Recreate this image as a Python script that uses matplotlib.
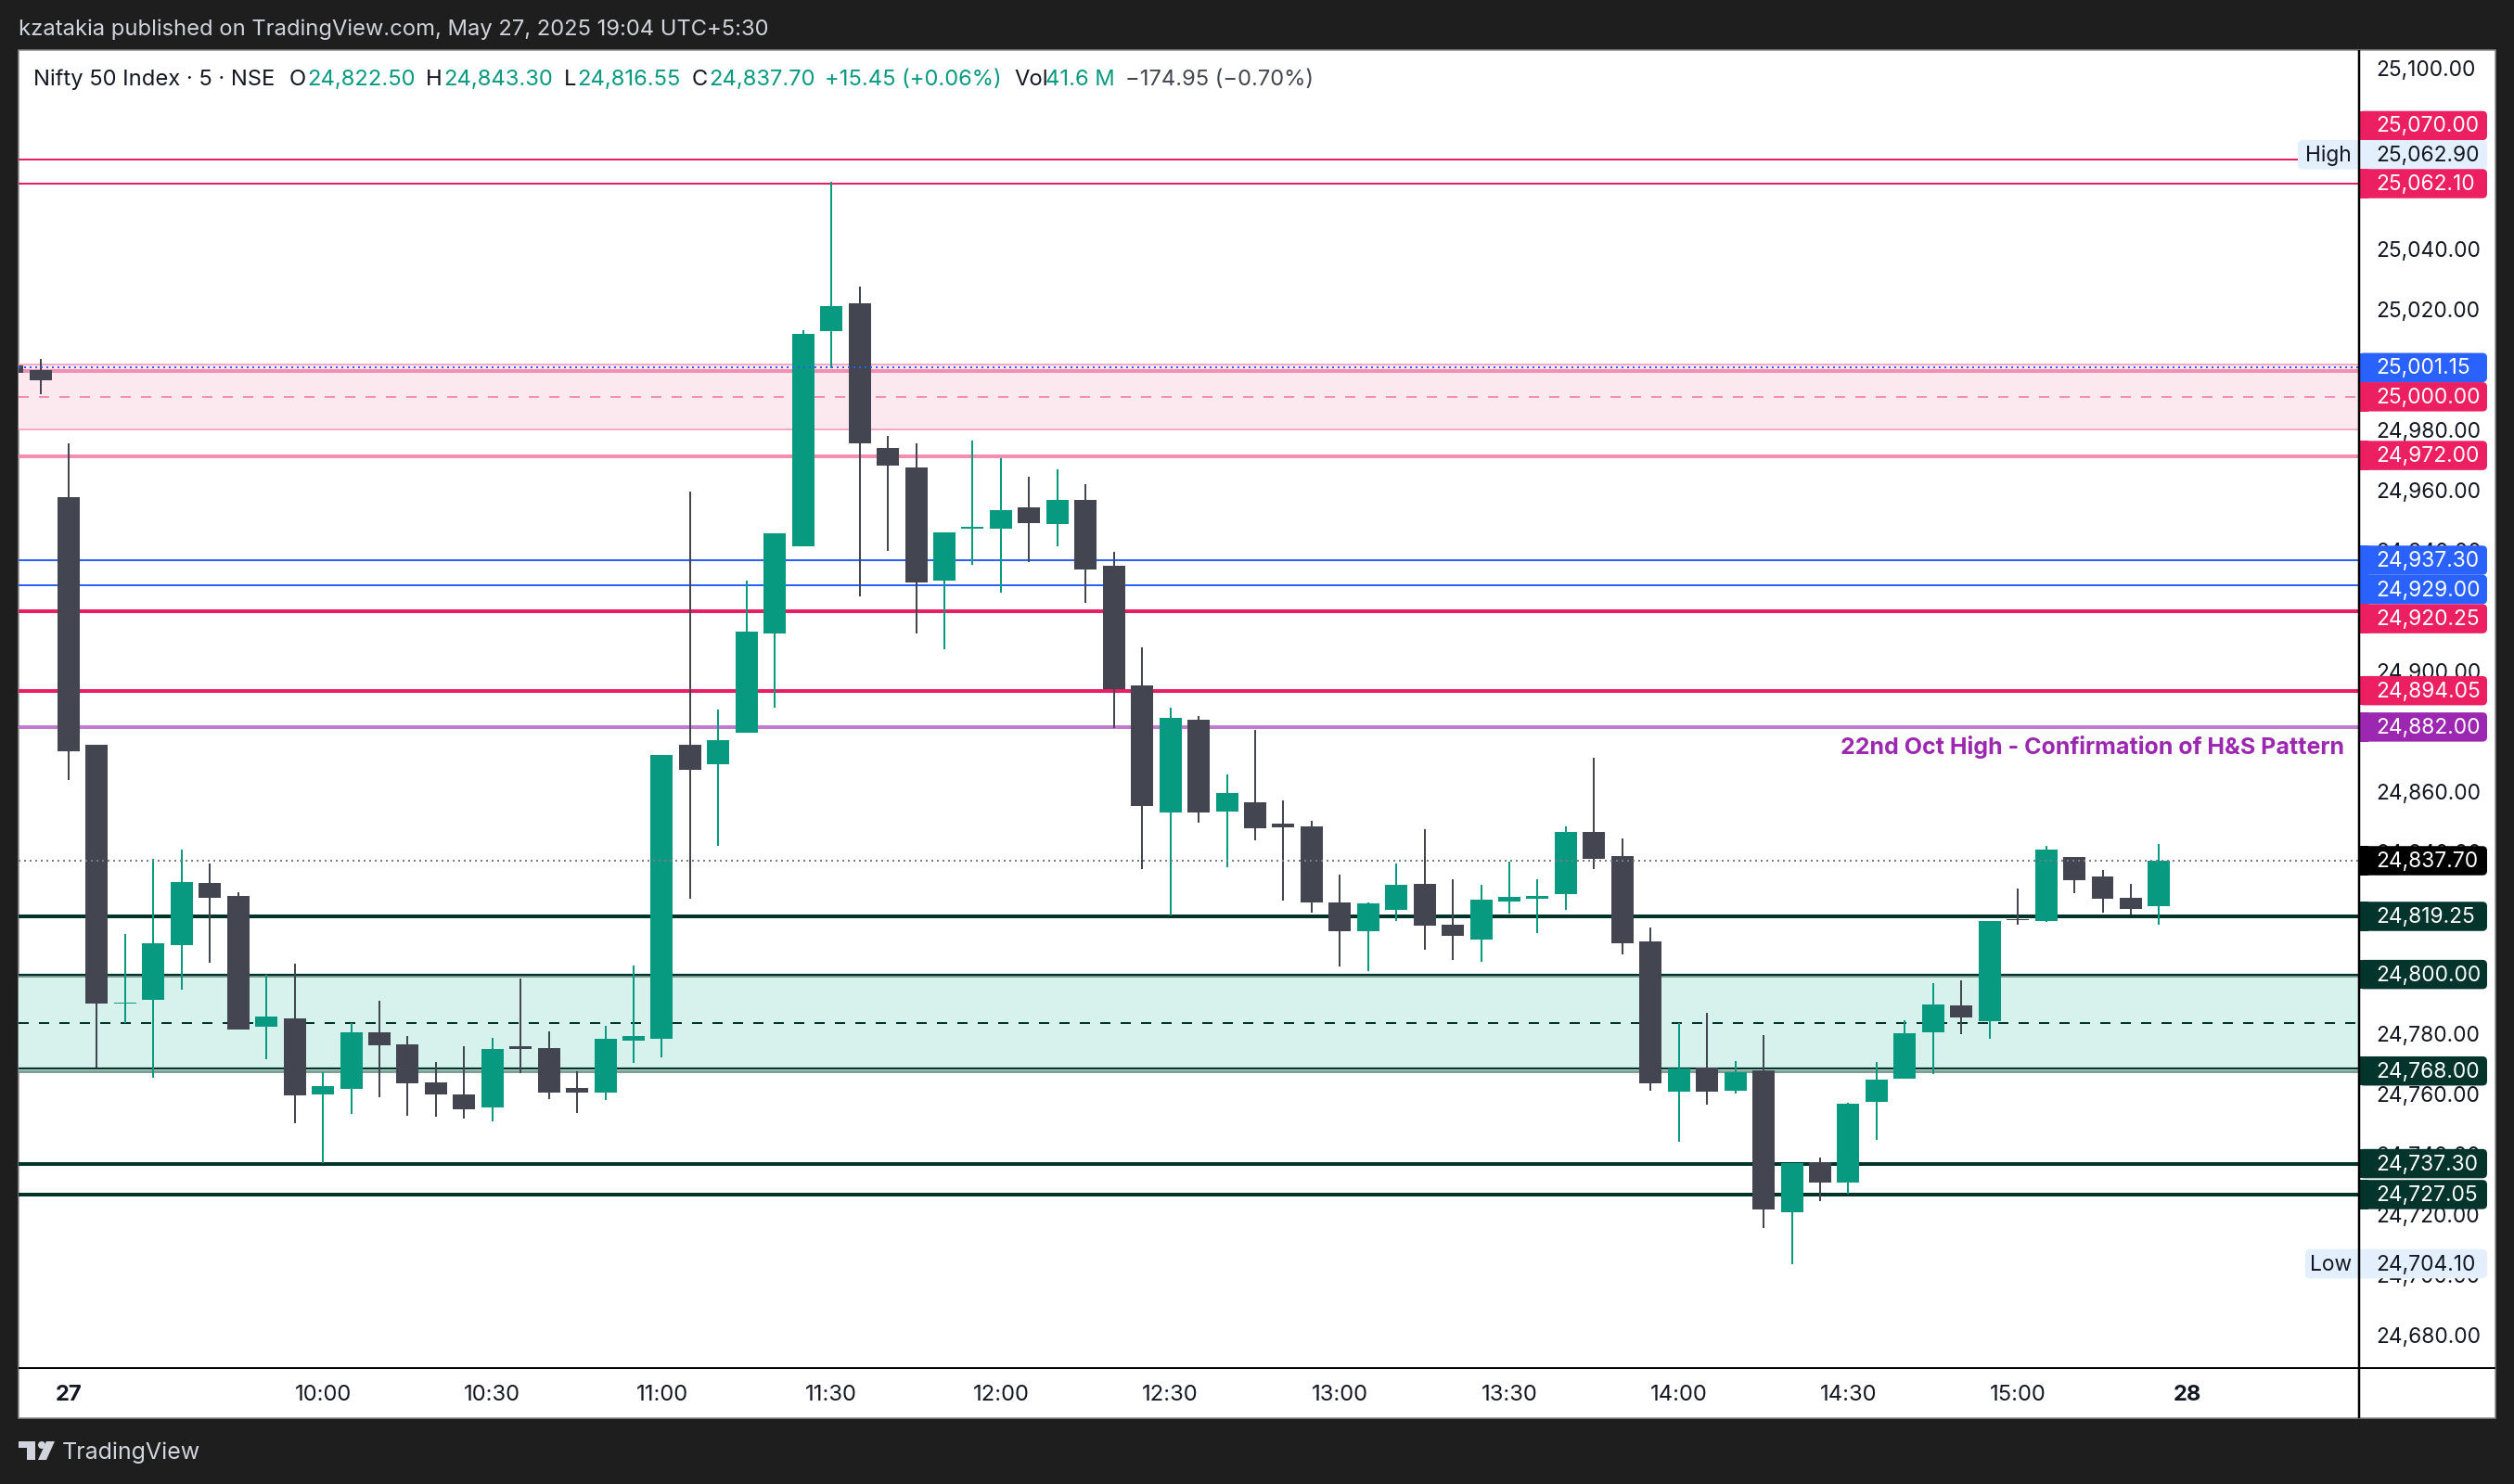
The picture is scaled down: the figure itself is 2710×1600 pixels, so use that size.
import matplotlib
matplotlib.use("Agg")
import matplotlib.pyplot as plt
from matplotlib.patches import FancyBboxPatch, Rectangle, Polygon, Circle
from matplotlib.transforms import ScaledTranslation

plt.rcParams["font.family"] = ["Inter", "DejaVu Sans"]
plt.rcParams["lines.scale_dashes"] = False

# candles, first one is index -2 (two bars of the previous session)
opens = [25001.8, 25000.4, 24958.2, 24876.1, 24790.2, 24791.5, 24809.7, 24830.3, 24826.0, 24782.7,
         24785.4, 24760.3, 24762.0, 24780.8, 24776.8, 24764.2, 24760.3, 24755.9, 24776.2, 24775.6,
         24762.3, 24760.9, 24778.0, 24778.6, 24876.1, 24869.7, 24880.1, 24913.0, 24941.9, 25013.3,
         25022.4, 24974.5, 24968.0, 24930.5, 24947.7, 24947.7, 24954.7, 24949.2, 24957.2, 24935.4,
         24895.8, 24853.7, 24884.4, 24854.0, 24857.0, 24849.9, 24849.1, 24823.9, 24814.4, 24821.4,
         24830.0, 24816.5, 24811.6, 24824.2, 24825.1, 24826.6, 24847.2, 24839.2, 24810.9, 24761.2,
         24769.2, 24761.5, 24768.2, 24721.2, 24737.7, 24731.0, 24757.8, 24765.5, 24780.8, 24789.7,
         24784.5, 24818.3, 24817.7, 24838.9, 24832.4, 24825.4, 24822.5]
highs = [25003.0, 25003.9, 24976.0, 24876.1, 24813.4, 24838.2, 24841.4, 24836.7, 24827.3, 24800.0,
         24803.6, 24767.5, 24783.8, 24791.2, 24779.6, 24771.0, 24776.2, 24779.0, 24798.6, 24781.1,
         24767.9, 24783.0, 24803.0, 24872.7, 24960.0, 24887.8, 24930.5, 24946.2, 25013.6, 25062.7,
         25028.0, 24978.4, 24976.0, 24946.5, 24976.9, 24971.0, 24964.9, 24967.4, 24962.4, 24940.0,
         24908.4, 24888.4, 24885.6, 24866.3, 24881.0, 24857.6, 24850.8, 24833.2, 24823.9, 24836.9,
         24848.2, 24831.6, 24829.8, 24837.4, 24831.6, 24849.1, 24871.9, 24845.0, 24815.5, 24784.0,
         24787.3, 24771.4, 24779.9, 24737.5, 24739.3, 24757.5, 24771.0, 24784.8, 24797.1, 24798.0,
         24817.7, 24828.5, 24842.6, 24838.9, 24834.6, 24830.0, 24843.3]
lows = [24998.0, 24992.4, 24864.5, 24769.1, 24783.8, 24765.8, 24795.0, 24803.9, 24781.8, 24771.9,
        24750.7, 24737.5, 24753.7, 24759.3, 24753.2, 24752.9, 24752.2, 24751.3, 24767.3, 24758.7,
        24754.0, 24758.4, 24770.6, 24772.5, 24825.1, 24842.6, 24880.1, 24888.4, 24941.9, 25001.0,
        24925.3, 24940.3, 24913.0, 24907.8, 24935.7, 24926.5, 24936.6, 24941.9, 24923.2, 24881.7,
        24834.9, 24819.6, 24850.3, 24835.5, 24844.5, 24824.4, 24820.6, 24802.7, 24801.0, 24817.7,
        24808.2, 24804.8, 24804.2, 24820.2, 24813.7, 24821.4, 24835.0, 24806.6, 24761.5, 24744.5,
        24756.9, 24760.6, 24716.0, 24704.1, 24724.9, 24727.3, 24745.2, 24765.5, 24767.0, 24780.3,
        24778.6, 24816.5, 24817.4, 24827.0, 24820.5, 24820.0, 24816.55]
closes = [24999.3, 24996.9, 24874.05, 24790.4, 24790.6, 24810.3, 24830.6, 24825.4, 24781.8, 24786.0,
          24760.0, 24763.0, 24780.8, 24776.5, 24763.9, 24760.3, 24755.3, 24775.3, 24775.3, 24760.9,
          24760.9, 24778.6, 24779.6, 24872.7, 24867.8, 24877.7, 24913.6, 24946.2, 25012.3, 25021.5,
          24976.0, 24968.7, 24929.9, 24946.5, 24948.3, 24953.9, 24949.5, 24957.2, 24934.2, 24894.6,
          24855.8, 24885.0, 24853.7, 24860.1, 24848.4, 24848.8, 24823.9, 24814.4, 24823.5, 24829.8,
          24816.2, 24812.8, 24824.8, 24825.7, 24826.1, 24847.2, 24838.3, 24810.3, 24763.9, 24768.8,
          24761.2, 24767.7, 24722.2, 24737.5, 24731.0, 24757.1, 24765.1, 24780.5, 24790.1, 24785.8,
          24817.7, 24817.9, 24841.4, 24831.3, 24825.1, 24821.7, 24837.7]

time_ticks = [0, 9, 15, 21, 27, 33, 39, 45, 51, 57, 63, 69, 75]
time_labels = ["27", "10:00", "10:30", "11:00", "11:30", "12:00", "12:30", "13:00",
               "13:30", "14:00", "14:30", "15:00", "28"]

# ticks that sit fully behind a price tag are left out
price_ticks = [25100, 25040, 25020, 24980, 24960, 24940, 24900,
               24860, 24840, 24780, 24760, 24740, 24720, 24700, 24680]

red_thin = [25070.00, 25062.10]
red_thick = [24920.25, 24894.05]
blue_lines = [24937.30, 24929.00]
dark_thick = [24819.25, 24737.30, 24727.05]

pink_zone = [24980.6, 25002.1]
pink_mid = 24991.35
pink_level = 25000.1
pink_thick = 24971.8
prev_close = 25001.15
last_close = 24837.70
purple_level = 24882.00

teal_zone = [24767.9, 24799.5]
teal_dark = [24800.0, 24768.8]
teal_mid = 24784.0

# price labels: text, where the tag sits, fill, text colour
tag_texts = ["25,070.00", "25,062.90", "25,062.10", "25,001.15", "25,000.00", "24,972.00",
             "24,937.30", "24,929.00", "24,920.25", "24,894.05", "24,882.00", "24,837.70",
             "24,819.25", "24,800.00", "24,768.00", "24,737.30", "24,727.05", "24,704.10"]
tag_prices = [25081.34, 25071.69, 25062.10, 25001.15, 24991.46, 24972.00,
              24937.30, 24927.60, 24917.90, 24894.05, 24882.00, 24837.70,
              24819.25, 24800.00, 24768.00, 24737.30, 24727.05, 24704.10]
tag_colors = ["#ec1f63", "#e3effd", "#ec1f63", "#2962ff", "#ec1f63", "#ec1f63",
              "#2962ff", "#2962ff", "#ec1f63", "#ec1f63", "#9c27b0", "#000000",
              "#04352c", "#04352c", "#04352c", "#04352c", "#04352c", "#e3effd"]
tag_text_colors = ["white", "#131722", "white", "white", "white", "white",
                   "white", "white", "white", "white", "white", "white",
                   "white", "white", "white", "white", "white", "#131722"]

GREEN = "#089981"
DARK = "#434651"
RED = "#e91e63"
BLUE = "#2962ff"
DARKGREEN = "#00332a"
W, H = 2710, 1600
FS = 17.1
PFS = 16.4  # price scale
px = 0.72  # points per pixel at dpi 100

fig = plt.figure(figsize=(W / 100, H / 100), dpi=100, facecolor="#1e1e1e")

# background panel in pixel coords
bg = fig.add_axes([0, 0, 1, 1], zorder=0)
bg.set_xlim(0, W)
bg.set_ylim(H, 0)
bg.axis("off")
bg.add_patch(Rectangle((20, 54), 2670, 1475, facecolor="white", edgecolor="#8a8a8a", lw=1.5 * px))

# chart
ax = fig.add_axes([20 / W, (H - 1475) / H, 2523 / W, 1421 / H], zorder=1)
ax.patch.set_alpha(0)
ax.set_xlim(-1.773, 81.08)
ax.set_ylim(24669.54, 25106.37)
for s in ax.spines.values():
    s.set_visible(False)
ax.set_yticks([])
ax.set_xticks(time_ticks)
ax.set_xticklabels(time_labels, fontsize=FS, color="#131722")
ax.tick_params(axis="x", length=0, pad=13)
for lab in ax.get_xticklabels():
    if lab.get_text() in ("27", "28"):
        lab.set_fontweight("bold")

# zones
ax.axhspan(pink_zone[0], pink_zone[1], color="#fce8ef", lw=0, zorder=1)
ax.axhspan(teal_zone[0], teal_zone[1], color="#d7f2ec", lw=0, zorder=1)
for p in pink_zone:
    ax.axhline(p, color="#f8a9c3", lw=2 * px, zorder=2)
for p in teal_zone:
    ax.axhline(p, color="#7f9f95", lw=3 * px, zorder=2)
for p in teal_dark:
    ax.axhline(p, color=DARKGREEN, lw=2.2 * px, zorder=2.1)
ax.axhline(pink_mid, color="#f48fb1", lw=2 * px, dashes=(11 * px, 11 * px), zorder=2)
ax.axhline(teal_mid, color=DARKGREEN, lw=2 * px, dashes=(11 * px, 11 * px), zorder=2)

# levels
ax.axhline(pink_level, color="#f48fb1", lw=4 * px, zorder=2)
ax.axhline(pink_thick, color="#f48fb1", lw=4 * px, zorder=2)
ax.axhline(purple_level, color="#c07bd0", lw=4 * px, zorder=2)
for p in red_thin:
    ax.axhline(p, color=RED, lw=2 * px, zorder=2)
for p in red_thick:
    ax.axhline(p, color=RED, lw=4 * px, zorder=2)
for p in blue_lines:
    ax.axhline(p, color=BLUE, lw=2 * px, zorder=2)
for p in dark_thick:
    ax.axhline(p, color=DARKGREEN, lw=4 * px, zorder=2)

# candles
xs = list(range(-2, len(opens) - 2))
colors = [GREEN if c > o else DARK for o, c in zip(opens, closes)]
ax.vlines(xs, lows, highs, colors=colors, lw=2 * px, zorder=3)
ax.bar(xs, [abs(c - o) for o, c in zip(opens, closes)], width=0.788,
       bottom=[min(o, c) for o, c in zip(opens, closes)], color=colors, lw=0, zorder=4)

# dotted price lines run over the candles
ax.axhline(prev_close, color=BLUE, lw=2 * px, dashes=(2 * px, 4 * px), zorder=5)
ax.axhline(last_close, color="#787b86", lw=2 * px, dashes=(2 * px, 4 * px), zorder=5)

# price scale
pax = fig.add_axes([2543 / W, (H - 1475) / H, 147 / W, 1421 / H], zorder=2)
pax.patch.set_alpha(0)
pax.set_xlim(0, 147)
pax.set_ylim(ax.get_ylim())
for s in pax.spines.values():
    s.set_visible(False)
pax.set_xticks([])
pax.yaxis.tick_right()
pax.set_yticks(price_ticks)
pax.set_yticklabels([f"{p:,.2f}" for p in price_ticks], fontsize=PFS, color="#131722")
pax.tick_params(axis="y", length=0, pad=-129 * px)
nudge = ScaledTranslation(0, 1.5 / 100, fig.dpi_scale_trans)
for lab in pax.get_yticklabels():
    lab.set_ha("left")
    lab.set_transform(lab.get_transform() + nudge)

tag_h = 31.5 / 3.253
for text, price, fill, tc in zip(tag_texts, tag_prices, tag_colors, tag_text_colors):
    left = 0
    if text == "25,062.90":
        left = -66
    if text == "24,704.10":
        left = -58
    pax.add_patch(FancyBboxPatch((left, price - tag_h / 2), 138 - left, tag_h,
                                 boxstyle="round,pad=0,rounding_size=5", mutation_aspect=1 / 3.253,
                                 facecolor=fill, edgecolor="none", clip_on=False, zorder=5))
    if left == 0:
        pax.add_patch(Rectangle((0, price - tag_h / 2), 10, tag_h, facecolor=fill,
                                edgecolor="none", zorder=5))
    pax.text(18, price - 0.3, text, fontsize=PFS, color=tc, va="center", ha="left", zorder=6)
    if left == -66:
        pax.text(-33, price - 0.3, "High", fontsize=PFS, color="#131722", va="center", ha="center", zorder=6)
    if left == -58:
        pax.text(-30, price - 0.3, "Low", fontsize=PFS, color="#131722", va="center", ha="center", zorder=6)

# frame lines, header and footer text
ov = fig.add_axes([0, 0, 1, 1], zorder=3)
ov.patch.set_alpha(0)
ov.set_xlim(0, W)
ov.set_ylim(H, 0)
ov.axis("off")
ov.plot([2543, 2543], [54, 1529], color="black", lw=2.5 * px, solid_capstyle="butt")
ov.plot([20, 2690], [1475, 1475], color="black", lw=2 * px, solid_capstyle="butt")

ov.text(20, 32, "kzatakia published on TradingView.com, May 27, 2025 19:04 UTC+5:30",
        fontsize=FS, color="#d1d4dc", va="center")
ov.text(2527, 806, "22nd Oct High - Confirmation of H&S Pattern", fontsize=18, fontweight="bold",
        color="#9c27b0", va="center", ha="right")

legend_x = [36, 312, 331, 459, 478, 608, 622, 746, 764, 889, 1093, 1127, 1213]
legend_txt = ["Nifty 50 Index · 5 · NSE", "O", "24,822.50", "H", "24,843.30", "L", "24,816.55",
              "C", "24,837.70", "+15.45 (+0.06%)", "Vol", "41.6 M", "−174.95 (−0.70%)"]
legend_col = ["#131722", "#131722", GREEN, "#131722", GREEN, "#131722", GREEN,
              "#131722", GREEN, GREEN, "#131722", GREEN, DARK]
for x, t, c in zip(legend_x, legend_txt, legend_col):
    ov.text(x, 86, t, fontsize=FS, color=c, va="center")

# logo
logo = "#d1d4dc"
ov.add_patch(Polygon([(20, 1554), (38, 1554), (38, 1574), (29, 1574), (29, 1561), (20, 1561)], color=logo, lw=0))
ov.add_patch(Circle((45, 1558), 4, color=logo, lw=0))
ov.add_patch(Polygon([(50, 1554), (59, 1554), (50, 1574), (41, 1574)], color=logo, lw=0))
ov.text(67, 1566, "TradingView", fontsize=18, color=logo, va="center")

fig.savefig("out.png", dpi=100, facecolor=fig.get_facecolor())
